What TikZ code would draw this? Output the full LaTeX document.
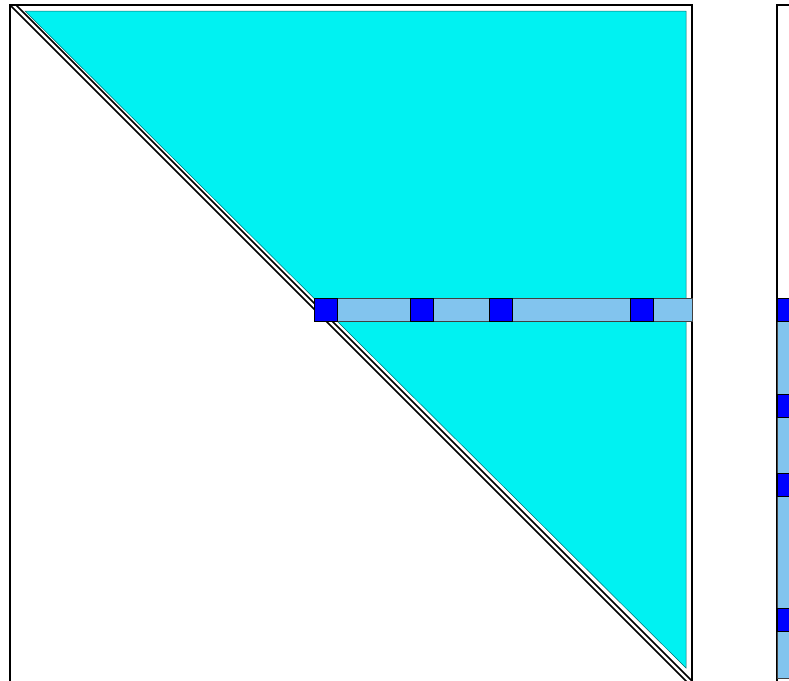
\documentclass[tikz,border=0pt]{standalone}
\usepackage{xcolor}
\usepackage{tikz}
\usetikzlibrary{calc}
\definecolor{tricyan}{HTML}{00F2F2}
\definecolor{rowblue}{HTML}{82C4EE}
\definecolor{pivblue}{HTML}{0000FF}

\begin{document}
\begin{tikzpicture}[x=1pt,y=-1pt,
  frame/.style={draw=black, line width=1.6pt},
  diag/.style={draw=black, line width=1.5pt},
  upper/.style={fill=tricyan, draw=tricyan!45!black, line width=0.5pt},
  rowbar/.style={fill=rowblue, draw=black!75, line width=0.9pt},
  pivot/.style={fill=pivblue, draw=black, line width=0.9pt}
]
\useasboundingbox (0,0) rectangle (789,680);
\clip (0,0) rectangle (789,680);
\coordinate (tl) at (10,5);
\coordinate (br) at (692,687);
% upper triangle
\draw[upper] (25,11) -- (686,11) -- (686,668) -- cycle;
\draw[diag] (tl) -- (br);
\draw[diag] (16,5) -- (692,681);
\draw[frame] (tl) rectangle (br);
% current row
\draw[rowbar] (314,298) rectangle (692,321);
\foreach \x in {314,410,489,630}
  \draw[pivot] (\x,298) rectangle ++(23,23);
% vector on the right
\draw[line width=1.2pt] (777,687) |- (800,5);
\draw[rowbar] (777,298) rectangle (800,678);
\foreach \y in {298,394,473,608}
  \draw[pivot] (777,\y) rectangle ++(23,23);
\end{tikzpicture}
\end{document}
